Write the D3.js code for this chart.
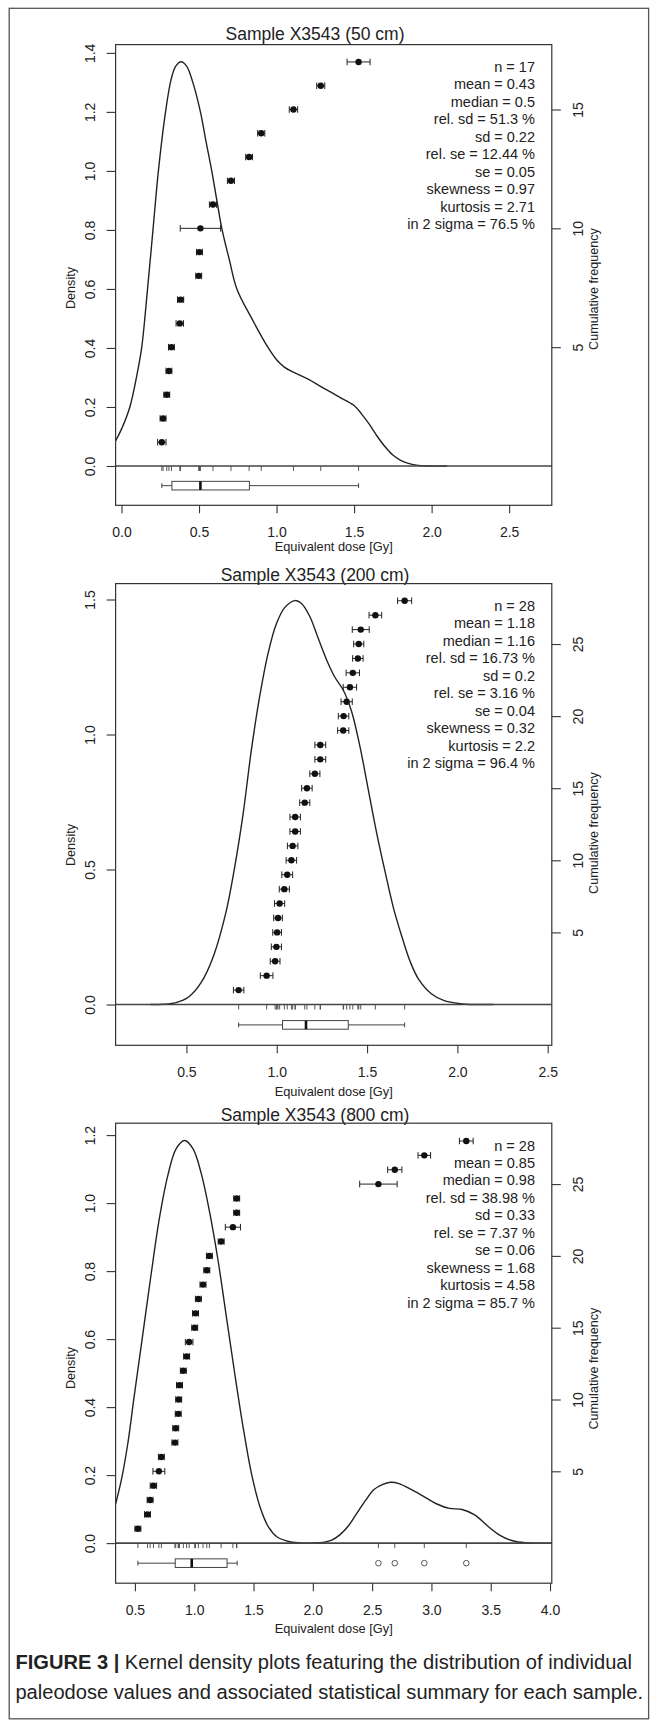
<!DOCTYPE html>
<html><head><meta charset="utf-8">
<script src="https://cdn.jsdelivr.net/npm/d3@7"></script>
<style>
html,body{margin:0;padding:0;background:#fff;}
svg{display:block;}
text{font-family:"Liberation Sans",Arial,Helvetica,sans-serif;fill:#222;}
</style></head><body>
<svg id="fig" width="657" height="1727"></svg>
<script>
// ================= DATA =================
const sampleTitles = ["Sample X3543 (50 cm)", "Sample X3543 (200 cm)", "Sample X3543 (800 cm)"];

// equivalent dose values (Gy), sorted, and their errors
const dose50 = [0.26,0.268,0.292,0.306,0.322,0.376,0.381,0.498,0.503,0.509,0.590,0.706,0.823,0.901,1.109,1.285,1.529];
const err50  = [0.027,0.019,0.019,0.019,0.019,0.024,0.02,0.019,0.019,0.13,0.023,0.023,0.022,0.023,0.027,0.026,0.074];

const dose200 = [0.789,0.944,0.991,0.998,1.002,1.007,1.016,1.042,1.058,1.081,1.088,1.102,1.102,1.155,1.167,1.211,1.241,1.241,1.368,1.370,1.387,1.405,1.421,1.449,1.454,1.465,1.546,1.708];
const err200  = [0.029,0.035,0.027,0.028,0.024,0.024,0.028,0.028,0.030,0.029,0.029,0.029,0.029,0.028,0.029,0.028,0.030,0.030,0.031,0.029,0.031,0.037,0.037,0.029,0.028,0.047,0.035,0.039];

const dose800 = [0.525,0.606,0.628,0.656,0.702,0.723,0.837,0.844,0.865,0.869,0.876,0.908,0.936,0.957,1.004,1.011,1.035,1.074,1.106,1.128,1.227,1.326,1.358,1.358,2.553,2.691,2.940,3.294];
const err800  = [0.025,0.025,0.025,0.027,0.05,0.025,0.025,0.025,0.025,0.025,0.025,0.025,0.025,0.032,0.025,0.025,0.025,0.025,0.025,0.025,0.025,0.064,0.025,0.025,0.158,0.06,0.053,0.058];

// kernel density estimates [dose, density]
const kde50 = [[-0.038,0.085],[0.0,0.125],[0.054,0.2],[0.1,0.31],[0.13,0.4],[0.168,0.6],[0.203,0.8],[0.238,1.0],[0.284,1.2],[0.32,1.31],[0.35,1.355],[0.385,1.37],[0.42,1.355],[0.46,1.3],[0.509,1.2],[0.545,1.1],[0.582,1.0],[0.615,0.9],[0.649,0.8],[0.695,0.7],[0.744,0.6],[0.84,0.5],[0.947,0.4],[1.0,0.36],[1.05,0.335],[1.1,0.32],[1.2,0.295],[1.3,0.265],[1.4,0.235],[1.5,0.205],[1.55,0.175],[1.6,0.14],[1.65,0.1],[1.7,0.065],[1.75,0.037],[1.8,0.019],[1.85,0.009],[1.9,0.003],[1.97,0.0],[2.1,0.0]];
const kde200 = [[0.30,0],[0.373,0.001],[0.442,0.007],[0.512,0.028],[0.581,0.081],[0.650,0.180],[0.720,0.345],[0.766,0.504],[0.813,0.702],[0.859,0.940],[0.905,1.139],[0.951,1.298],[0.998,1.410],[1.044,1.470],[1.102,1.496],[1.137,1.485],[1.183,1.437],[1.229,1.357],[1.275,1.278],[1.322,1.212],[1.368,1.165],[1.414,1.086],[1.461,0.954],[1.507,0.795],[1.553,0.636],[1.600,0.491],[1.646,0.358],[1.692,0.253],[1.738,0.160],[1.785,0.094],[1.854,0.041],[1.924,0.015],[2.016,0.003],[2.109,0],[2.2,0]];
const kde800 = [[0.337,0.115],[0.387,0.188],[0.440,0.293],[0.493,0.430],[0.564,0.608],[0.635,0.787],[0.706,0.955],[0.777,1.081],[0.848,1.160],[0.918,1.184],[0.989,1.160],[1.060,1.086],[1.131,0.971],[1.202,0.829],[1.273,0.661],[1.344,0.493],[1.415,0.335],[1.486,0.199],[1.557,0.104],[1.628,0.046],[1.699,0.018],[1.805,0.004],[1.911,0],[2.053,0.001],[2.160,0.009],[2.230,0.025],[2.301,0.051],[2.372,0.088],[2.443,0.125],[2.514,0.157],[2.585,0.172],[2.656,0.179],[2.727,0.175],[2.833,0.157],[2.940,0.136],[3.046,0.115],[3.152,0.102],[3.259,0.099],[3.365,0.083],[3.472,0.051],[3.578,0.023],[3.684,0.007],[3.791,0.001],[3.9,0],[4.1,0]];

// boxplot summaries [lower whisker, Q1, median, Q3, upper whisker]
const box50 = [0.26, 0.325, 0.509, 0.825, 1.529];
const box200 = [0.789, 1.032, 1.162, 1.396, 1.708];
const box800 = [0.525, 0.840, 0.979, 1.277, 1.362];
const outliers800 = [2.553, 2.691, 2.940, 3.294];

// statistical summaries
const stats50 = ["n = 17","mean = 0.43","median = 0.5","rel. sd = 51.3 %","sd = 0.22","rel. se = 12.44 %","se = 0.05","skewness = 0.97","kurtosis = 2.71","in 2 sigma = 76.5 %"];
const stats200 = ["n = 28","mean = 1.18","median = 1.16","rel. sd = 16.73 %","sd = 0.2","rel. se = 3.16 %","se = 0.04","skewness = 0.32","kurtosis = 2.2","in 2 sigma = 96.4 %"];
const stats800 = ["n = 28","mean = 0.85","median = 0.98","rel. sd = 38.98 %","sd = 0.33","rel. se = 7.37 %","se = 0.06","skewness = 1.68","kurtosis = 4.58","in 2 sigma = 85.7 %"];

// tick values
const densityTicks50 = [0,0.2,0.4,0.6,0.8,1.0,1.2,1.4];
const densityTicks200 = [0,0.5,1.0,1.5];
const densityTicks800 = [0,0.2,0.4,0.6,0.8,1.0,1.2];
const cumTicks50 = [5,10,15];
const cumTicks200 = [5,10,15,20,25];
const cumTicks800 = [5,10,15,20,25];
const doseTicks50 = [0,0.5,1.0,1.5,2.0,2.5];
const doseTicks200 = [0.5,1.0,1.5,2.0,2.5];
const doseTicks800 = [0.5,1.0,1.5,2.0,2.5,3.0,3.5,4.0];

const xLabel = "Equivalent dose [Gy]";
const yLabel = "Density";
const y2Label = "Cumulative frequency";
const captionBold = "FIGURE 3 |";
const captionLine1 = " Kernel density plots featuring the distribution of individual";
const captionLine2 = "paleodose values and associated statistical summary for each sample.";

// ================= LAYOUT =================
const boxLeft = 115.6, boxRight = 551.8;
const layout = [
  {top:44.6, bottom:505.3, xDom:[-0.038,2.775], yDom:[-0.1332,1.428], cDom:[-1.653,17.73], titleY:33.9, xlabY:546.4, densLabY:288, cumLabY:289},
  {top:583.6, bottom:1045.3, xDom:[0.1079,2.5227], yDom:[-0.1511,1.5589], cDom:[-2.829,29.19], titleY:574.6, xlabY:1091.7, densLabY:845, cumLabY:833},
  {top:1123.2, bottom:1583.2, xDom:[0.337,4.015], yDom:[-0.1179,1.235], cDom:[-2.792,29.24], titleY:1115, xlabY:1628.3, densLabY:1368, cumLabY:1368.6}
];
const panelData = [
  {title:sampleTitles[0], dose:dose50, err:err50, kde:kde50, box:box50, out:[], stats:stats50, dT:densityTicks50, cT:cumTicks50, xT:doseTicks50},
  {title:sampleTitles[1], dose:dose200, err:err200, kde:kde200, box:box200, out:[], stats:stats200, dT:densityTicks200, cT:cumTicks200, xT:doseTicks200},
  {title:sampleTitles[2], dose:dose800, err:err800, kde:kde800, box:box800, out:outliers800, stats:stats800, dT:densityTicks800, cT:cumTicks800, xT:doseTicks800}
];

const svg = d3.select("#fig");
const ink = "#222", lineCol = "#333";

// outer frame
svg.append("rect").attr("x",9.2).attr("y",8.3).attr("width",639.4).attr("height",1710.5)
  .attr("fill","none").attr("stroke","#555").attr("stroke-width",1.3);

panelData.forEach((P, i) => {
  const L = layout[i];
  const x = d3.scaleLinear().domain(L.xDom).range([boxLeft, boxRight]);
  const y = d3.scaleLinear().domain(L.yDom).range([L.bottom, L.top]);
  const c = d3.scaleLinear().domain(L.cDom).range([L.bottom, L.top]);
  const g = svg.append("g");

  const clipId = "clip" + i;
  svg.append("clipPath").attr("id", clipId).append("rect")
    .attr("x", boxLeft).attr("y", L.top).attr("width", boxRight - boxLeft).attr("height", L.bottom - L.top);

  // title
  g.append("text").attr("x", 315).attr("y", L.titleY).attr("text-anchor","middle")
    .attr("dominant-baseline","central").style("font-size","17.5px").text(P.title);

  // density curve
  const line = d3.line().x(d => x(d[0])).y(d => y(d[1])).curve(d3.curveCatmullRom.alpha(0.5));
  g.append("path").datum(P.kde).attr("d", line).attr("fill","none").attr("stroke", ink)
    .attr("stroke-width",1.4).attr("clip-path", `url(#${clipId})`);

  // zero line
  g.append("line").attr("x1", boxLeft).attr("x2", boxRight).attr("y1", y(0)).attr("y2", y(0))
    .attr("stroke", "#444").attr("stroke-width", 1.6);

  // rug
  g.selectAll(".rug").data(P.dose).enter().append("line")
    .attr("x1", d => x(d)).attr("x2", d => x(d)).attr("y1", y(0)).attr("y2", y(0) + 5)
    .attr("stroke", "#444").attr("stroke-width", 0.9);

  // boxplot
  const by = y(L.yDom[0] / 2);
  const hb = 4.3, hs = 2.4;
  const B = P.box;
  const bg = g.append("g").attr("stroke", "#444").attr("stroke-width", 1).attr("fill", "none");
  bg.append("line").attr("x1", x(B[0])).attr("x2", x(B[1])).attr("y1", by).attr("y2", by);
  bg.append("line").attr("x1", x(B[3])).attr("x2", x(B[4])).attr("y1", by).attr("y2", by);
  bg.append("line").attr("x1", x(B[0])).attr("x2", x(B[0])).attr("y1", by - hs).attr("y2", by + hs);
  bg.append("line").attr("x1", x(B[4])).attr("x2", x(B[4])).attr("y1", by - hs).attr("y2", by + hs);
  bg.append("rect").attr("x", x(B[1])).attr("y", by - hb).attr("width", x(B[3]) - x(B[1])).attr("height", 2 * hb);
  bg.append("line").attr("x1", x(B[2])).attr("x2", x(B[2])).attr("y1", by - hb).attr("y2", by + hb)
    .attr("stroke", "#111").attr("stroke-width", 2.6);
  bg.selectAll(".out").data(P.out).enter().append("circle")
    .attr("cx", d => x(d)).attr("cy", by).attr("r", 2.8).attr("stroke-width", 0.9);

  // cumulative frequency points with error bars
  const eg = g.append("g").attr("stroke", ink).attr("stroke-width", 1);
  P.dose.forEach((d, k) => {
    const cy = c(k + 1), e = P.err[k];
    eg.append("line").attr("x1", x(d - e)).attr("x2", x(d + e)).attr("y1", cy).attr("y2", cy);
    eg.append("line").attr("x1", x(d - e)).attr("x2", x(d - e)).attr("y1", cy - 3.3).attr("y2", cy + 3.3);
    eg.append("line").attr("x1", x(d + e)).attr("x2", x(d + e)).attr("y1", cy - 3.3).attr("y2", cy + 3.3);
  });
  g.selectAll(".pt").data(P.dose).enter().append("circle")
    .attr("cx", d => x(d)).attr("cy", (d, k) => c(k + 1)).attr("r", 3.2).attr("fill", "#111");

  // plot box
  g.append("rect").attr("x", boxLeft).attr("y", L.top).attr("width", boxRight - boxLeft)
    .attr("height", L.bottom - L.top).attr("fill", "none").attr("stroke", lineCol).attr("stroke-width", 1.2);

  // axes
  const styleAxis = (ax) => {
    ax.select(".domain").remove();
    ax.selectAll(".tick line").attr("stroke", lineCol).attr("stroke-width", 1.1);
    ax.selectAll(".tick text").style("font-size", "14px").attr("fill", ink)
      .style("font-family", '"Liberation Sans",Arial,sans-serif');
  };
  const ax1 = g.append("g").attr("transform", `translate(${boxLeft},0)`)
    .call(d3.axisLeft(y).tickValues(P.dT).tickSize(9).tickFormat(d3.format(".1f")));
  styleAxis(ax1);
  ax1.selectAll(".tick text").attr("x", null).attr("dy", null).attr("text-anchor", "middle")
    .attr("dominant-baseline", "central").attr("transform", "translate(-25.6,0) rotate(-90)");

  const ax2 = g.append("g").attr("transform", `translate(${boxRight},0)`)
    .call(d3.axisRight(c).tickValues(P.cT).tickSize(9).tickFormat(d3.format("d")));
  styleAxis(ax2);
  ax2.selectAll(".tick text").attr("x", null).attr("dy", null).attr("text-anchor", "middle")
    .attr("dominant-baseline", "central").attr("transform", "translate(26.4,0) rotate(-90)");

  const ax3 = g.append("g").attr("transform", `translate(0,${L.bottom})`)
    .call(d3.axisBottom(x).tickValues(P.xT).tickSize(8).tickFormat(d3.format(".1f")));
  styleAxis(ax3);
  ax3.selectAll(".tick text").attr("y", 26.5).attr("dy", null).attr("dominant-baseline", "central");

  // axis labels
  g.append("text").attr("x", (boxLeft + boxRight) / 2).attr("y", L.xlabY).attr("text-anchor", "middle")
    .attr("dominant-baseline", "central").style("font-size", "12.8px").text(xLabel);
  g.append("text").attr("transform", `translate(71.2,${L.densLabY}) rotate(-90)`).attr("text-anchor", "middle")
    .attr("dominant-baseline", "central").style("font-size", "12.6px").text(yLabel);
  g.append("text").attr("transform", `translate(594.1,${L.cumLabY}) rotate(-90)`).attr("text-anchor", "middle")
    .attr("dominant-baseline", "central").style("font-size", "12.6px").text(y2Label);

  // stats
  g.selectAll(".st").data(P.stats).enter().append("text")
    .attr("x", 535).attr("y", (d, k) => L.top + 22.3 + k * 17.46)
    .attr("text-anchor", "end").attr("dominant-baseline", "central")
    .style("font-size", "14.5px").text(d => d);
});

// caption
const cap1 = svg.append("text").attr("x", 15.4).attr("y", 1669).style("font-size", "20.1px").attr("fill", "#222");
cap1.append("tspan").style("font-weight", "bold").text(captionBold);
cap1.append("tspan").text(captionLine1);
svg.append("text").attr("x", 15.4).attr("y", 1698.5).style("font-size", "20.1px").attr("fill", "#222").text(captionLine2);
</script>
</body></html>
